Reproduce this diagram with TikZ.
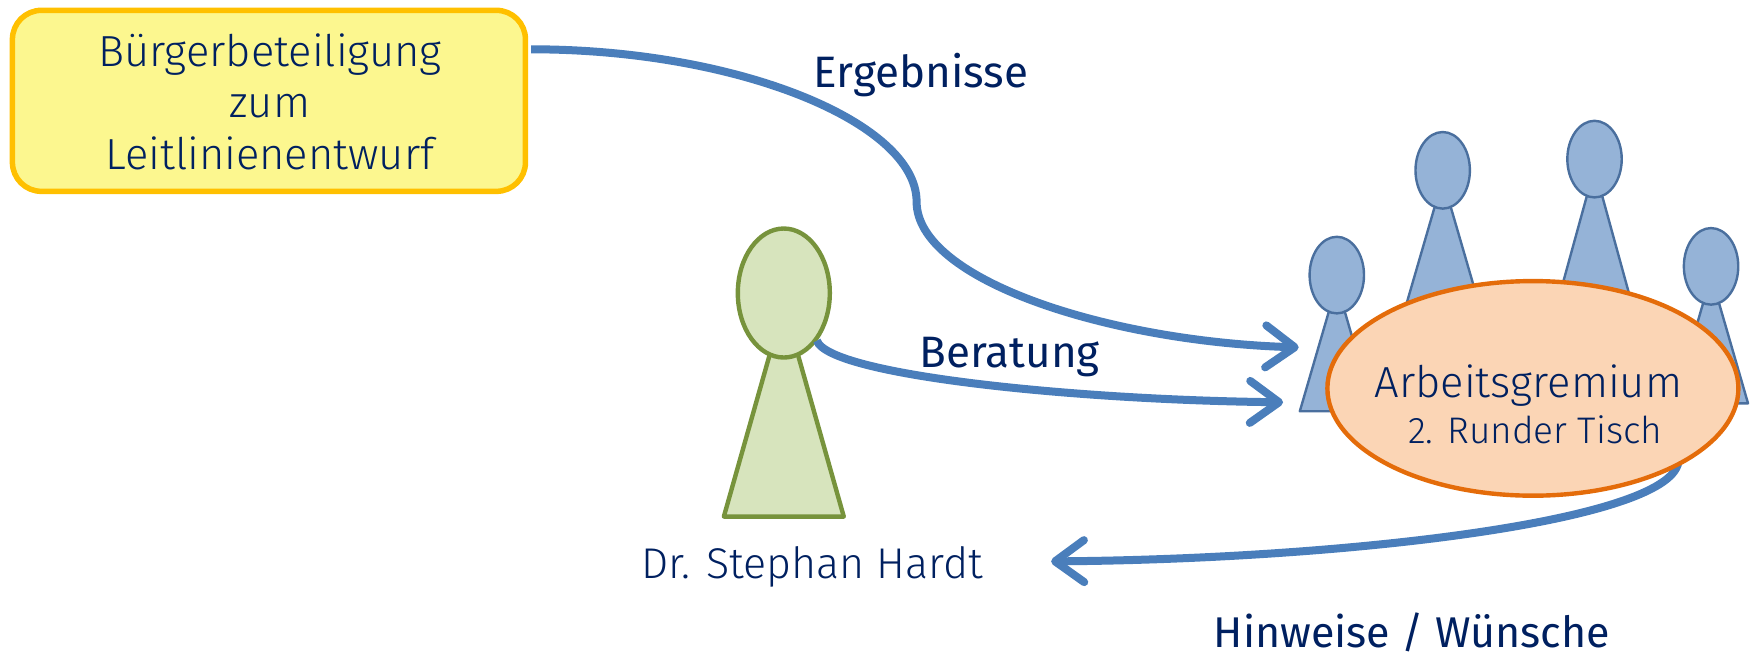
\documentclass[tikz,border=0pt]{standalone}
\usepackage{fontspec}
\setmainfont{Fira Sans}[UprightFont=* Light]
\newfontfamily\regfont{Fira Sans}
\usetikzlibrary{arrows.meta,shapes.geometric}
\definecolor{txt}{HTML}{002060}
\definecolor{conn}{HTML}{4A7EBB}
\definecolor{pawnfill}{HTML}{95B3D7}
\definecolor{pawnline}{HTML}{4A6F9E}
\tikzset{
  x=1.1205pt,y=-1.1205pt,
  label/.style={anchor=base,inner sep=0pt,text=txt,font=\fontsize{43.5}{50}\selectfont},
  boldlabel/.style={anchor=base,inner sep=0pt,text=txt,font=\regfont\fontsize{44}{50}\selectfont},
  flow/.style={draw=conn,line width=8pt,-{Straight Barb[length=29pt,width=42pt,line width=8pt,line cap=round,round]}},
  head/.style={ellipse,minimum width=54.4pt,minimum height=76.6pt,inner sep=0pt,draw=pawnline,fill=pawnfill,line width=2.4pt},
  body/.style={draw=pawnline,fill=pawnfill,line width=2.4pt,line join=round},
}
\begin{document}
\begin{tikzpicture}
\useasboundingbox (0,0) rectangle (1568,588);
% yellow box
\node (box) at (240,90) [draw={rgb,255:red,255;green,192;blue,0},fill={rgb,255:red,252;green,247;blue,143},line width=5.5pt,rounded corners=29pt,minimum width=513pt,minimum height=181pt,inner sep=0pt] {};
\node[label] (t1) at (241,59) {Bürgerbeteiligung};
\node[label] (t2) at (241,105) {zum};
\node[label] (t3) at (241,151) {Leitlinienentwurf};
% blue pawns
\draw[body] (1160,367) -- (1193,253.6) -- (1226,367) -- cycle;
\node[head] (p1) at (1193,245.5) {};
\draw[body] (1254.5,273.5) -- (1287.5,160) -- (1320.5,273.5) -- cycle;
\node[head] (p2) at (1287.5,152) {};
\draw[body] (1390,270) -- (1423,150) -- (1456,270) -- cycle;
\node[head] (p3) at (1423,142) {};
\draw[body] (1494,360) -- (1527,246) -- (1560,360) -- cycle;
\node[head] (p4) at (1527,237.7) {};
% green pawn
\draw[draw={rgb,255:red,119;green,147;blue,60},fill={rgb,255:red,215;green,228;blue,189},line width=4.4pt,line join=round] (646,461) -- (699.5,272) -- (753,461) -- cycle;
\node (g) at (699.5,261.5) [ellipse,draw={rgb,255:red,119;green,147;blue,60},fill={rgb,255:red,215;green,228;blue,189},line width=4.4pt,minimum width=92pt,minimum height=129pt,inner sep=0pt] {};
% connector coordinates
\coordinate (s1) at (474,44);
\coordinate (m1) at (818,180);
\coordinate (e1) at (1159,310);
\coordinate (s2) at (729,304);
\coordinate (e2) at (1145,359);
\coordinate (s3) at (1498,410);
\coordinate (e3) at (938,501);
\draw[flow] (s1) .. controls (660,44) and (818,110) .. (m1) .. controls (818,250) and (990,305) .. (e1);
\draw[flow] (s2) .. controls (740,335) and (960,357) .. (e2);
\draw[flow] (s3) .. controls (1498,465) and (1200,499) .. (e3);
% table
\node (table) at (1368,346.6) [ellipse,draw={rgb,255:red,228;green,108;blue,10},fill={rgb,255:red,251;green,213;blue,181},line width=4.4pt,minimum width=411pt,minimum height=214.6pt,inner sep=0pt] {};
% labels
\node[label] (t4) at (1364,355) {Arbeitsgremium};
\node[label,font=\fontsize{37}{44}\selectfont] (t5) at (1370,396) {2. Runder Tisch};
\node[label,font=\fontsize{43}{50}\selectfont] (t6) at (725,516) {Dr. Stephan Hardt};
\node[boldlabel] (t7) at (822,78) {Ergebnisse};
\node[boldlabel] (t8) at (901,328) {Beratung};
\node[boldlabel,font=\regfont\fontsize{43}{50}\selectfont] (t9) at (1260,578) {Hinweise / Wünsche};
\end{tikzpicture}
\end{document}
